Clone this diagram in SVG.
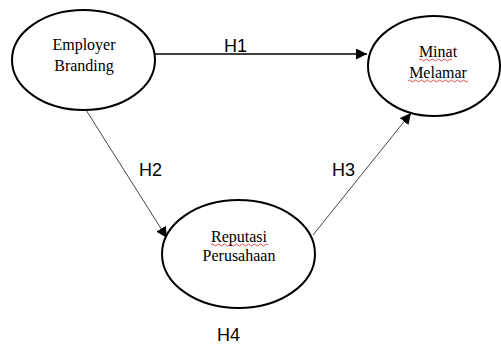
<svg xmlns="http://www.w3.org/2000/svg" width="501" height="347" viewBox="0 0 501 347">
<style>
.node{fill:#fff;stroke:#000;stroke-width:2}
.lbl{font-family:"Liberation Serif","Times New Roman",serif;font-size:16px;fill:#000;text-anchor:middle}
.h{font-family:"Liberation Sans",Arial,sans-serif;font-size:18px;fill:#000}
.sq{fill:none;stroke:#e02020;stroke-width:0.8}
</style>
<defs>
<marker id="ah" viewBox="0 0 10 10" refX="10" refY="5" markerWidth="11" markerHeight="11" markerUnits="userSpaceOnUse" orient="auto">
<path d="M0,0 L10,5 L0,10 Z" fill="#000"/>
</marker>
</defs>
<g id="connectors">
<line x1="155" y1="54" x2="367" y2="54" stroke="#000" stroke-width="1.5" marker-end="url(#ah)"/>
<line x1="86" y1="110" x2="167" y2="238" stroke="#444" stroke-width="1" marker-end="url(#ah)"/>
<line x1="313" y1="235" x2="411" y2="113" stroke="#444" stroke-width="1" marker-end="url(#ah)"/>
</g>
<g id="employer-branding">
<ellipse class="node" cx="83.5" cy="60" rx="71.5" ry="50"/>
<text class="lbl" x="84" y="50">Employer</text>
<text class="lbl" x="84" y="71">Branding</text>
</g>
<g id="minat-melamar">
<ellipse class="node" cx="434" cy="66" rx="66" ry="50"/>
<text class="lbl" x="438" y="57">Minat</text>
<text class="lbl" x="438" y="78">Melamar</text>
<path class="sq" d="M419,60 q1.5,-2 3,0 t3,0 t3,0 t3,0 t3,0 t3,0 t3,0 t3,0 t3,0 t3,0 t3,0"/>
<path class="sq" d="M408,81 q1.5,-2 3,0 t3,0 t3,0 t3,0 t3,0 t3,0 t3,0 t3,0 t3,0 t3,0 t3,0 t3,0 t3,0 t3,0 t3,0 t3,0 t3,0 t3,0 t3,0 t3,0"/>
</g>
<g id="reputasi-perusahaan">
<ellipse class="node" cx="238.5" cy="254" rx="76.5" ry="54"/>
<text class="lbl" x="239" y="242">Reputasi</text>
<text class="lbl" x="239" y="261">Perusahaan</text>
<path class="sq" d="M211,245 q1.5,-2 3,0 t3,0 t3,0 t3,0 t3,0 t3,0 t3,0 t3,0 t3,0 t3,0 t3,0 t3,0 t3,0 t3,0 t3,0 t3,0 t3,0 t3,0 t3,0"/>
</g>
<text class="h" x="224" y="52">H1</text>
<text class="h" x="139" y="176">H2</text>
<text class="h" x="332" y="176">H3</text>
<text class="h" x="217" y="341">H4</text>
</svg>
